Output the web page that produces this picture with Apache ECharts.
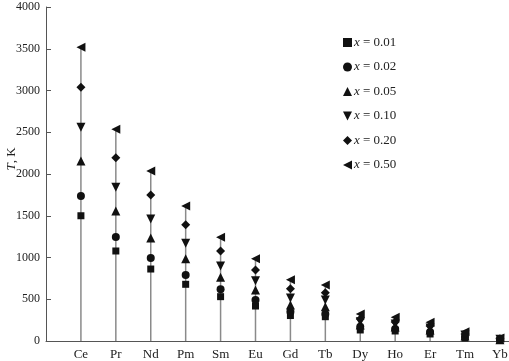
<!DOCTYPE html>
<html><head><meta charset="utf-8">
<script src="https://cdn.jsdelivr.net/npm/echarts@6/dist/echarts.min.js"></script>
<style>html,body{margin:0;padding:0;background:#fff}#c{width:509px;height:361px}</style>
</head><body><div id="c"></div>
<script>
const categories = ['Ce','Pr','Nd','Pm','Sm','Eu','Gd','Tb','Dy','Ho','Er','Tm','Yb'];
const seriesNames = ['x = 0.01','x = 0.02','x = 0.05','x = 0.10','x = 0.20','x = 0.50'];
const x001 = [1500,1078,862,679,531,419,305,291,132,120,84,36,8];
const x002 = [1736,1245,994,790,619,491,351,323,171,144,108,48,12];
const x005 = [2156,1557,1233,986,763,611,431,411,192,168,132,60,16];
const x010 = [2559,1840,1461,1170,898,722,515,491,231,204,156,72,22];
const x020 = [3038,2195,1748,1393,1078,850,625,579,263,228,180,84,28];
const x050 = [3517,2535,2036,1617,1242,986,735,671,323,284,224,111,36];
const yTicks = [0,500,1000,1500,2000,2500,3000,3500,4000];

const allSeries = [x001,x002,x005,x010,x020,x050];
const symbols = ['rect','circle','triangle','path://M0,0 L10,0 L5,10 Z','diamond','path://M0,5 L10,0 L10,10 Z'];
const sizes = [7,8,9,9,9,9];
const serif = '"Liberation Serif","DejaVu Serif",serif';

const series = [];
series.push({
  type:'custom', name:'stems', silent:true, z:1,
  data: categories.map((c,i)=>[i+1, Math.max(...allSeries.map(s=>s[i]))]),
  renderItem:(params, api)=>{
    const p0 = api.coord([api.value(0), 0]);
    const p1 = api.coord([api.value(0), api.value(1)]);
    return {type:'line', shape:{x1:p0[0],y1:p0[1],x2:p1[0],y2:p1[1]}, style:{stroke:'#8a8a8a', lineWidth:1.5}};
  }
});
allSeries.forEach((arr,k)=>{
  series.push({
    type:'scatter', name:seriesNames[k], symbol:symbols[k], symbolSize:sizes[k],
    itemStyle:{color:'#111', opacity:1}, z:3,
    data: arr.map((v,i)=>[i+1, v])
  });
});

const chart = echarts.init(document.getElementById('c'));
chart.setOption({
  animation:false,
  backgroundColor:'#fff',
  grid:{left:46, right:0, top:7, bottom:20, containLabel:false, outerBoundsMode:'none'},
  xAxis:{type:'value', min:0, max:13.26, interval:1,
    axisLine:{show:true, lineStyle:{color:'#555', width:1}},
    axisTick:{show:false}, splitLine:{show:false},
    axisLabel:{color:'#222', fontFamily:serif, fontSize:13, margin:7,
      formatter:(v)=> (Number.isInteger(v) && v>=1 && v<=categories.length) ? categories[v-1] : '',
      showMaxLabel:false}
  },
  yAxis:{type:'value', min:0, max:4000, interval:500,
    axisLine:{show:true, lineStyle:{color:'#555', width:1}},
    axisTick:{show:true, inside:true, length:5, lineStyle:{color:'#555'}},
    splitLine:{show:false},
    axisLabel:{color:'#222', fontFamily:serif, fontSize:12, margin:6,
      formatter:(v)=> yTicks.includes(v) ? String(v) : ''},
    name:'{i|T}, K', nameLocation:'middle', nameGap:28, nameRotate:90, nameMoveOverlap:false,
    nameTextStyle:{color:'#222', fontFamily:serif, fontSize:13, padding:[0,0,0,30],
      rich:{i:{fontStyle:'italic', fontFamily:serif, fontSize:13, color:'#222'}}}
  },
  legend:{orient:'vertical', left:338, top:31, itemGap:11.5, itemWidth:9, itemHeight:9,
    data: seriesNames,
    formatter:(n)=> '{i|x} = ' + n.split('= ')[1],
    textStyle:{color:'#222', fontFamily:serif, fontSize:13, padding:[0,0,0,-3],
      rich:{i:{fontStyle:'italic', fontFamily:serif, fontSize:13, color:'#222'}}}
  },
  series: series
});
</script></body></html>
